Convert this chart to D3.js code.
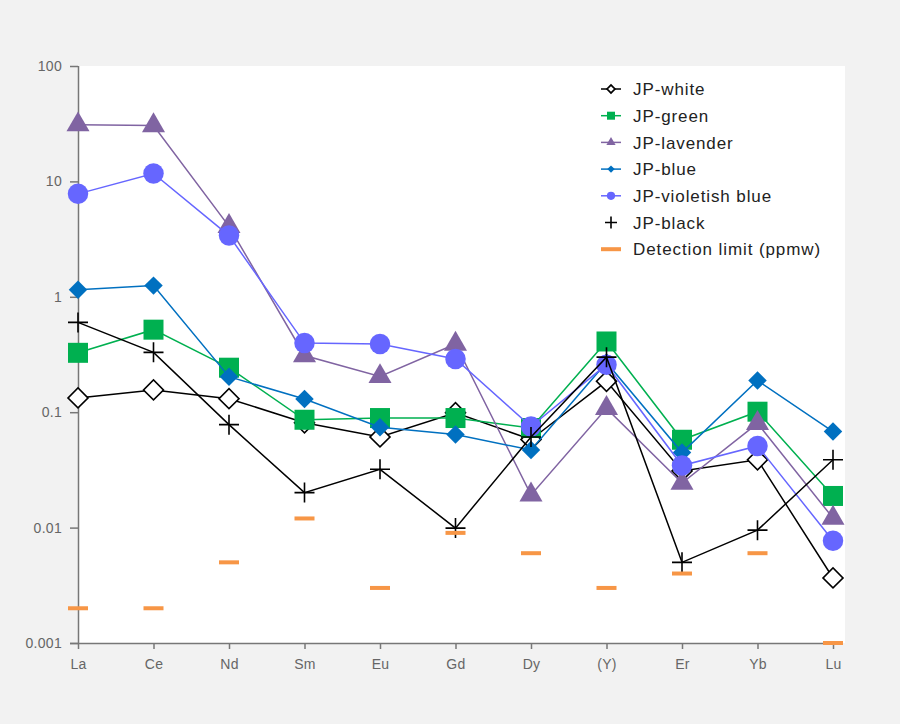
<!DOCTYPE html>
<html><head><meta charset="utf-8">
<script src="https://cdn.jsdelivr.net/npm/d3@7"></script>
<style>
html,body{margin:0;padding:0;background:#f2f2f2;}
svg{display:block;font-family:"Liberation Sans",Arial,Helvetica,sans-serif;}
</style></head>
<body>
<svg id="chart" width="900" height="724"></svg>
<script>
const categories = ["La","Ce","Nd","Sm","Eu","Gd","Dy","(Y)","Er","Yb","Lu"];
const jpWhite    = [0.133,0.156,0.131,0.081,0.061,0.099,0.058,0.185,0.031,0.0387,0.00366];
const jpGreen    = [0.327,0.519,0.243,0.086,0.089,0.089,0.073,0.41,0.0577,0.101,0.0188];
const jpLavender = [31,30.5,4.08,0.31,0.204,0.39,0.0192,0.108,0.0243,0.080,0.0121];
const jpBlue     = [1.15,1.25,0.203,0.130,0.074,0.064,0.047,0.27,0.0447,0.188,0.068];
const jpViolet   = [7.8,11.7,3.39,0.397,0.39,0.289,0.075,0.258,0.0345,0.051,0.0077];
const jpBlack    = [0.60,0.33,0.078,0.0201,0.032,0.0099,0.061,0.30,0.0050,0.0095,0.0387];
const detectionLimit = [0.002,0.002,0.005,0.012,0.003,0.009,0.006,0.003,0.004,0.006,0.001];
const yTicks = [0.001,0.01,0.1,1,10,100];
const yTickLabels = ["0.001","0.01","0.1","1","10","100"];

const series = [
  {name:"JP-white", values:jpWhite, color:"#000000", marker:"diamondOpen"},
  {name:"JP-green", values:jpGreen, color:"#00b050", marker:"square"},
  {name:"JP-lavender", values:jpLavender, color:"#8064a2", marker:"triangle"},
  {name:"JP-blue", values:jpBlue, color:"#0070c0", marker:"diamond"},
  {name:"JP-violetish blue", values:jpViolet, color:"#6666ff", marker:"circle"},
  {name:"JP-black", values:jpBlack, color:"#000000", marker:"plus"}
];

(function(){
const svg = d3.select("#chart");
const pL = 78, pR = 845, pT = 66, pB = 643;
const x = d3.scalePoint().domain(categories).range([78, 833]);
const y = d3.scaleLog().domain([0.001,100]).range([pB, pT]);

svg.append("rect").attr("x",pL).attr("y",pT).attr("width",pR-pL).attr("height",pB-pT).attr("fill","#ffffff");

const axisColor = "#777";
const yAxis = svg.append("g").attr("transform",`translate(${pL},0)`)
  .call(d3.axisLeft(y).tickValues(yTicks).tickFormat((d,i)=>yTickLabels[i]).tickSize(8).tickPadding(8));
const xAxis = svg.append("g").attr("transform",`translate(0,${pB})`)
  .call(d3.axisBottom(x).tickSize(6).tickPadding(10));
[yAxis,xAxis].forEach(g=>{
  g.select(".domain").attr("stroke",axisColor).attr("stroke-width",1.5);
  g.selectAll(".tick line").attr("stroke",axisColor).attr("stroke-width",1.5);
  g.selectAll(".tick text").attr("fill","#666").style("font-size","14px").style("letter-spacing","0.3px");
});
xAxis.select(".domain").attr("d",`M${pL-8},0.5H${pR-2}`);
yAxis.select(".domain").attr("d",`M0.5,${pT}V${pB}`);

const sym = {
  diamondOpen: d3.symbol().type(d3.symbolSquare).size(200),
  diamond: d3.symbol().type(d3.symbolSquare).size(170),
  square: d3.symbol().type(d3.symbolSquare).size(400),
  triangle: d3.symbol().type(d3.symbolTriangle).size(230),
  circle: d3.symbol().type(d3.symbolCircle).size(330)
};

function drawMarker(g, type, color, cx, cy, scale){
  scale = scale || 1;
  if(type==="plus"){
    const h = 10*scale;
    g.append("path").attr("d",`M${cx-h},${cy}H${cx+h}M${cx},${cy-h}V${cy+h}`)
      .attr("stroke",color).attr("stroke-width",1.6).attr("fill","none");
    return;
  }
  const p = g.append("path").attr("d",sym[type]());
  let tr = `translate(${cx},${cy})`;
  if(type==="diamondOpen"||type==="diamond") tr += " rotate(45)";
  if(scale!==1) tr += ` scale(${scale})`;
  p.attr("transform",tr);
  if(type==="diamondOpen") p.attr("fill","#fff").attr("stroke","#000").attr("stroke-width",1.6/scale);
  else p.attr("fill",color);
}

const line = d3.line().x((d,i)=>x(categories[i])).y(d=>y(d));
series.forEach(s=>{
  const g = svg.append("g");
  g.append("path").datum(s.values).attr("d",line).attr("fill","none")
    .attr("stroke",s.color).attr("stroke-width",1.5);
  s.values.forEach((v,i)=>drawMarker(g,s.marker,s.color,x(categories[i]),y(v)));
});

svg.append("g").selectAll("rect").data(detectionLimit).join("rect")
  .attr("x",(d,i)=>x(categories[i])-10).attr("y",d=>y(d)-2)
  .attr("width",20).attr("height",4).attr("fill","#f79646");

const lg = svg.append("g");
const legendItems = series.map(s=>({name:s.name,color:s.color,marker:s.marker}))
  .concat([{name:"Detection limit (ppmw)",color:"#f79646",marker:"dash"}]);
legendItems.forEach((it,i)=>{
  const cy = 89 + i*26.7;
  const g = lg.append("g");
  if(it.marker==="dash"){
    g.append("rect").attr("x",601).attr("y",cy-2).attr("width",20).attr("height",4).attr("fill",it.color);
  } else {
    if(it.marker!=="plus") g.append("line").attr("x1",601).attr("x2",621).attr("y1",cy).attr("y2",cy)
      .attr("stroke",it.color).attr("stroke-width",1.5);
    drawMarker(g,it.marker,it.color,611,cy,it.marker==="plus"?0.6:0.4);
  }
  g.append("text").attr("x",633).attr("y",cy).attr("dy","0.36em").attr("fill","#222")
    .style("font-size","17px").style("letter-spacing","0.9px").text(it.name);
});
})();
</script>
</body></html>
